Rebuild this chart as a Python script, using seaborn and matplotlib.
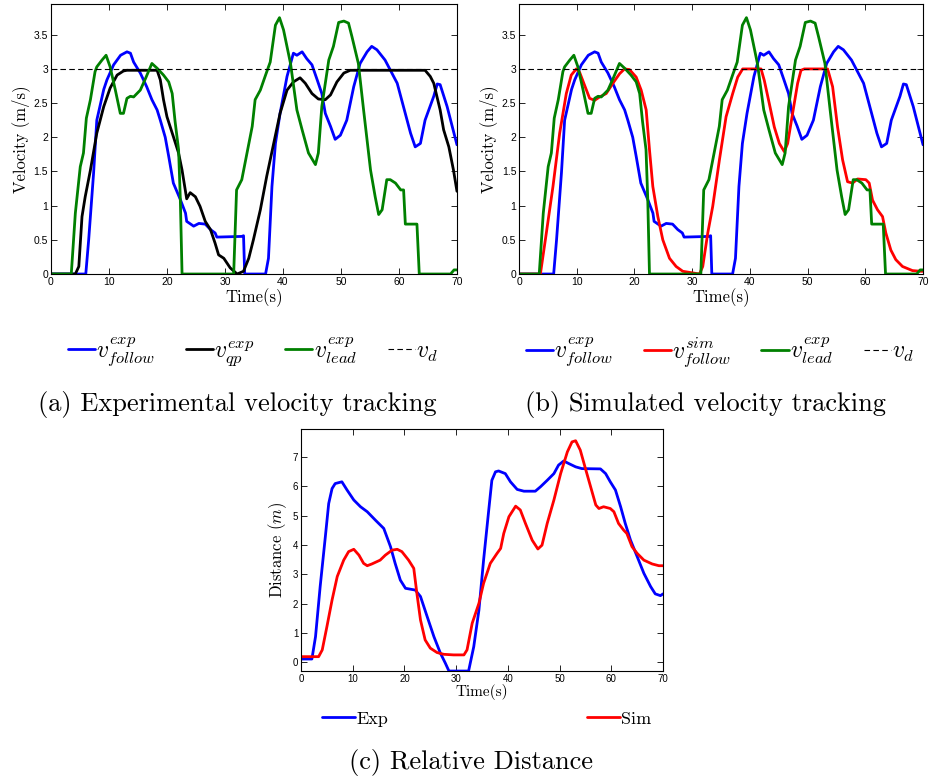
import matplotlib
matplotlib.use('Agg')
import matplotlib.pyplot as plt
import seaborn as sns
import numpy as np
from matplotlib.ticker import FuncFormatter

# ---- data ----
v_d = 3.0

t_follow = [0, 6.0, 6.1, 6.5, 7.35, 7.9, 9.1, 9.65, 10.8, 12, 13.1, 13.7, 14.25, 15.4, 16.5, 17.4,
            18.3, 18.85, 19.7, 20.3, 21.1, 22.3, 23.2, 23.4, 24.6, 25.5, 26.6, 27.5, 28.3, 28.6,
            32.9, 33.2, 33.4, 37.0, 37.5, 38.1, 38.7, 39.5, 40.7, 41.8, 42.4, 43.3, 44.1, 45.0,
            45.9, 46.7, 47.3, 48.2, 49.0, 49.9, 51.0, 52.2, 53.3, 54.5, 55.3, 56.2, 57.6, 59.7,
            62.0, 62.8, 63.7, 64.5, 66.0, 66.6, 67.1, 68.3, 70]
v_follow = [0, 0, 0.1, 0.5, 1.48, 2.25, 2.7, 2.84, 3.06, 3.2, 3.25, 3.23, 3.1, 2.94, 2.74, 2.55,
            2.4, 2.25, 2.0, 1.72, 1.33, 1.09, 0.89, 0.77, 0.7, 0.74, 0.73, 0.65, 0.6, 0.54,
            0.55, 0.56, 0, 0, 0.23, 1.28, 1.91, 2.35, 2.89, 3.23, 3.2, 3.25, 3.15, 3.06,
            2.84, 2.64, 2.35, 2.16, 1.97, 2.03, 2.25, 2.74, 3.08, 3.25, 3.33, 3.28, 3.13, 2.79,
            2.06, 1.86, 1.91, 2.25, 2.6, 2.78, 2.77, 2.45, 1.89]

t_lead = [0, 3.5, 4.2, 5.05, 5.6, 6.1, 6.8, 7.6, 7.9, 8.8, 9.5, 10.2, 11.1, 11.95, 12.5, 13.1,
          13.7, 14.25, 15.4, 16.3, 17.4, 18.3, 19.4, 20.3, 20.9, 21.4, 22.0, 22.3, 22.6, 31.5,
          32.0, 32.6, 32.9, 33.8, 34.7, 35.2, 36.1, 37.0, 37.8, 38.7, 39.4, 40.1, 41.3, 42.4,
          43.3, 44.4, 45.6, 46.1, 46.7, 47.9, 48.7, 49.6, 50.5, 51.3, 51.9, 53.0, 53.9, 55.1,
          55.9, 56.5, 57.1, 57.9, 58.5, 59.4, 60.3, 60.8, 61.1, 63.1, 63.5, 68.9, 69.5, 70]
v_lead = [0, 0, 0.89, 1.57, 1.77, 2.28, 2.55, 2.96, 3.03, 3.13, 3.2, 3.03, 2.69, 2.35, 2.35, 2.57,
          2.6, 2.59, 2.69, 2.86, 3.08, 3.01, 2.91, 2.81, 2.64, 2.23, 1.82, 1.1, 0, 0,
          1.23, 1.33, 1.38, 1.77, 2.16, 2.55, 2.69, 2.91, 3.1, 3.64, 3.75, 3.57, 3.08, 2.4,
          2.11, 1.77, 1.6, 1.77, 2.45, 3.13, 3.33, 3.68, 3.7, 3.67, 3.47, 3.08, 2.4, 1.52,
          1.13, 0.87, 0.94, 1.38, 1.38, 1.33, 1.23, 1.23, 0.73, 0.73, 0, 0, 0.06, 0.06]

t_qp = [0, 4.2, 4.8, 5.35, 5.9, 6.8, 7.9, 9.1, 10.2, 11.4, 12.5, 13.1, 18.3, 18.85, 19.4, 20.0,
        21.1, 22.0, 22.6, 23.4, 24.0, 24.9, 25.7, 26.6, 27.5, 28.3, 28.9, 29.8, 30.9, 32.1, 33.2,
        34.1, 34.9, 36.1, 37.2, 38.4, 39.5, 40.7, 41.8, 42.95, 43.85, 45.0, 46.1, 47.3, 48.2,
        49.3, 50.5, 51.6, 64.5, 65.4, 66.0, 67.1, 67.7, 68.6, 69.4, 70]
v_qp = [0, 0, 0.11, 0.84, 1.13, 1.52, 2.06, 2.45, 2.72, 2.91, 2.97, 2.98, 2.98, 2.84, 2.55, 2.3,
        2.01, 1.77, 1.52, 1.1, 1.19, 1.13, 0.99, 0.77, 0.65, 0.45, 0.28, 0.23, 0.09, 0.0, 0.04,
        0.23, 0.5, 0.94, 1.43, 1.91, 2.35, 2.69, 2.81, 2.87, 2.79, 2.64, 2.56, 2.55, 2.62,
        2.81, 2.94, 2.98, 2.98, 2.89, 2.79, 2.4, 2.11, 1.86, 1.52, 1.21]

t_sim = [0, 3.7, 4.73, 5.88, 7.04, 8.19, 9.05, 9.92, 10.5, 11.36, 12.23, 13.09, 13.96, 15.11,
         16.26, 17.42, 18.28, 19.15, 20.3, 21.16, 22.03, 22.61, 23.18, 24.05, 24.91, 26.07,
         27.22, 28.37, 31.26, 31.83, 32.7, 33.56, 34.72, 35.87, 37.02, 37.89, 38.75, 41.93,
         42.5, 43.37, 44.23, 45.1, 45.96, 46.54, 47.4, 48.27, 48.85, 49.42, 53.46, 54.33,
         55.19, 56.06, 56.92, 57.79, 58.65, 60.09, 60.67, 61.25, 62.11, 62.98, 63.55, 64.42,
         65.28, 66.44, 68.17, 69.61, 70]
v_sim = [0, 0, 0.6, 1.28, 2.06, 2.64, 2.91, 3.0, 2.95, 2.76, 2.57, 2.54, 2.59, 2.64,
         2.79, 2.93, 3.0, 2.99, 2.88, 2.69, 2.4, 1.81, 1.28, 0.84, 0.5, 0.23,
         0.11, 0.04, 0, 0.11, 0.6, 0.99, 1.67, 2.3, 2.64, 2.88, 3.0, 3.0,
         2.83, 2.49, 2.15, 1.91, 1.79, 1.91, 2.35, 2.79, 2.98, 3.0, 3.0, 2.74,
         2.15, 1.67, 1.35, 1.33, 1.39, 1.38, 1.33, 1.08, 0.94, 0.84, 0.6, 0.35,
         0.21, 0.11, 0.05, 0.04, 0.04]

t_dexp = [0, 2.1, 2.8, 3.7, 4.7, 5.35, 6.0, 6.6, 7.9, 8.9, 10.2, 11.5, 12.8, 14.4, 16.0, 17.3,
          18.2, 19.2, 20.2, 22.1, 23.1, 24.4, 25.7, 26.95, 27.9, 28.6, 32.4, 33.4, 34.4, 35.3,
          36.3, 36.9, 37.6, 38.2, 39.5, 40.5, 41.8, 43.1, 45.3, 46.3, 47.6, 48.9, 49.8, 50.8,
          51.8, 53.1, 54.3, 57.9, 58.9, 59.8, 60.8, 61.8, 62.7, 63.7, 65.0, 66.3, 67.6, 68.5,
          69.5, 70]
d_exp = [0.11, 0.11, 0.87, 2.58, 4.28, 5.41, 5.92, 6.09, 6.15, 5.87, 5.53, 5.3, 5.13, 4.84, 4.56, 3.94,
         3.37, 2.8, 2.52, 2.46, 2.24, 1.55, 0.87, 0.31, -0.03, -0.3, -0.3, 0.53, 1.78, 3.48,
         5.19, 6.2, 6.49, 6.52, 6.43, 6.15, 5.89, 5.83, 5.83, 5.98, 6.2, 6.43, 6.72, 6.86,
         6.77, 6.66, 6.6, 6.59, 6.43, 6.15, 5.87, 5.3, 4.73, 4.17, 3.6, 3.03, 2.58, 2.33,
         2.27, 2.33]

t_dsim = [0, 3.4, 4.1, 5.0, 6.0, 7.0, 8.25, 9.2, 10.2, 11.2, 12.1, 12.8, 13.7, 15.3, 16.3, 17.6,
          18.6, 19.5, 20.8, 21.8, 22.4, 23.1, 24.0, 25.0, 26.3, 27.6, 29.5, 31.5, 32.1, 33.1,
          34.4, 35.3, 36.6, 37.9, 38.6, 39.2, 40.2, 41.5, 42.4, 43.4, 44.7, 45.8, 46.6, 47.6,
          48.9, 50.2, 51.5, 52.4, 53.1, 54.0, 55.0, 56.0, 57.0, 57.6, 58.5, 59.8, 60.5, 61.4,
          62.4, 63.0, 64.0, 65.0, 66.3, 67.9, 69.2, 70]
d_sim = [0.19, 0.19, 0.42, 1.21, 2.12, 2.92, 3.48, 3.77, 3.85, 3.65, 3.37, 3.29, 3.35, 3.48, 3.65, 3.82,
         3.85, 3.77, 3.48, 3.2, 2.35, 1.44, 0.76, 0.48, 0.33, 0.27, 0.25, 0.25, 0.42, 1.33,
         2.01, 2.69, 3.37, 3.71, 3.88, 4.39, 4.96, 5.32, 5.19, 4.73, 4.16, 3.86, 3.99, 4.73,
         5.53, 6.43, 7.17, 7.51, 7.55, 7.23, 6.6, 5.98, 5.36, 5.24, 5.3, 5.24, 5.13, 4.73,
         4.5, 4.39, 3.94, 3.71, 3.48, 3.35, 3.29, 3.29]

BLUE = (0, 0, 1)
GREEN = (0, 0.5, 0)
RED = (1, 0, 0)

sns.set_style('ticks', {'axes.edgecolor': 'black', 'xtick.color': 'black', 'ytick.color': 'black',
                        'text.color': 'black', 'axes.labelcolor': 'black',
                        'xtick.direction': 'in', 'ytick.direction': 'in'})
plt.rcParams['font.family'] = ['Liberation Sans', 'DejaVu Sans']
plt.rcParams['mathtext.fontset'] = 'cm'

fig = plt.figure(figsize=(9.32, 7.8), dpi=100)
ax1 = fig.add_axes([0.0547, 0.6487, 0.4356, 0.3462])
ax2 = fig.add_axes([0.5569, 0.6487, 0.4335, 0.3462])
ax3 = fig.add_axes([0.323, 0.1397, 0.3884, 0.3103])


def line(ax, t, v, color, lw=2.0, **kw):
    sns.lineplot(x=t, y=v, ax=ax, color=color, linewidth=lw, estimator=None, sort=False, **kw)
    return ax.lines[-1]


def style(ax, ylim, yticks, tsize):
    ax.set_xlim(0, 70)
    ax.set_ylim(*ylim)
    ax.set_xticks(range(0, 71, 10))
    ax.set_yticks(yticks)
    ax.yaxis.set_major_formatter(FuncFormatter(lambda v, p: '%g' % v))
    ax.tick_params(direction='in', top=True, right=True, length=4, width=0.6,
                   labelsize=tsize, pad=2)
    for s in ax.spines.values():
        s.set_visible(True)
        s.set_linewidth(0.8)


leg_kw = dict(loc='center', ncol=4, frameon=False, fontsize=17, handlelength=1.15,
              handletextpad=0.05, columnspacing=1.3)

# (a) experimental
h_f = line(ax1, t_follow, v_follow, BLUE)
h_q = line(ax1, t_qp, v_qp, 'black')
h_l = line(ax1, t_lead, v_lead, GREEN)
h_d = ax1.axhline(v_d, color='black', lw=0.8, ls=(0, (5, 3)))
style(ax1, (0, 3.95), np.arange(0, 3.6, 0.5), 7.5)
ax1.set_xlabel('Time(s)', family='cmr10', fontsize=12, labelpad=1)
ax1.set_ylabel('Velocity (m/s)', family='cmr10', fontsize=12, labelpad=3)

fig.legend([h_f, h_q, h_l, h_d],
           [r'$v_{follow}^{exp}$', r'$v_{qp}^{exp}$', r'$v_{lead}^{exp}$', r'$v_d$'],
           bbox_to_anchor=(253 / 932, 1 - 352 / 780), **leg_kw)

# (b) simulated
g_f = line(ax2, t_follow, v_follow, BLUE)
g_s = line(ax2, t_sim, v_sim, RED)
g_l = line(ax2, t_lead, v_lead, GREEN)
g_d = ax2.axhline(v_d, color='black', lw=0.8, ls=(0, (5, 3)))
style(ax2, (0, 3.95), np.arange(0, 3.6, 0.5), 7.5)
ax2.set_xlabel('Time(s)', family='cmr10', fontsize=12, labelpad=1)
ax2.set_ylabel('Velocity (m/s)', family='cmr10', fontsize=12, labelpad=3)

fig.legend([g_f, g_s, g_l, g_d],
           [r'$v_{follow}^{exp}$', r'$v_{follow}^{sim}$', r'$v_{lead}^{exp}$', r'$v_d$'],
           bbox_to_anchor=(720 / 932, 1 - 352 / 780), **leg_kw)

# (c) distance
k_e = line(ax3, t_dexp, d_exp, BLUE)
k_s = line(ax3, t_dsim, d_sim, RED)
style(ax3, (-0.3, 7.95), range(0, 8), 7)
ax3.set_xlabel('Time(s)', family='cmr10', fontsize=11, labelpad=0)
ax3.set_ylabel(r'Distance ($m$)', family='cmr10', fontsize=12, labelpad=3)

fig.legend([k_e, k_s], ['Exp', 'Sim'], loc='center', bbox_to_anchor=(487 / 932, 1 - 719 / 780),
           ncol=2, frameon=False, prop={'family': 'cmr10', 'size': 13},
           handlelength=1.8, handletextpad=0.1, columnspacing=11)

fig.text(237 / 932, 1 - 404 / 780, '(a) Experimental velocity tracking', family='cmr10',
         fontsize=19, ha='center', va='center')
fig.text(705 / 932, 1 - 404 / 780, '(b) Simulated velocity tracking', family='cmr10',
         fontsize=19, ha='center', va='center')
fig.text(471 / 932, 1 - 762 / 780, '(c) Relative Distance', family='cmr10',
         fontsize=19, ha='center', va='center')

fig.savefig('out.png', dpi=100)
